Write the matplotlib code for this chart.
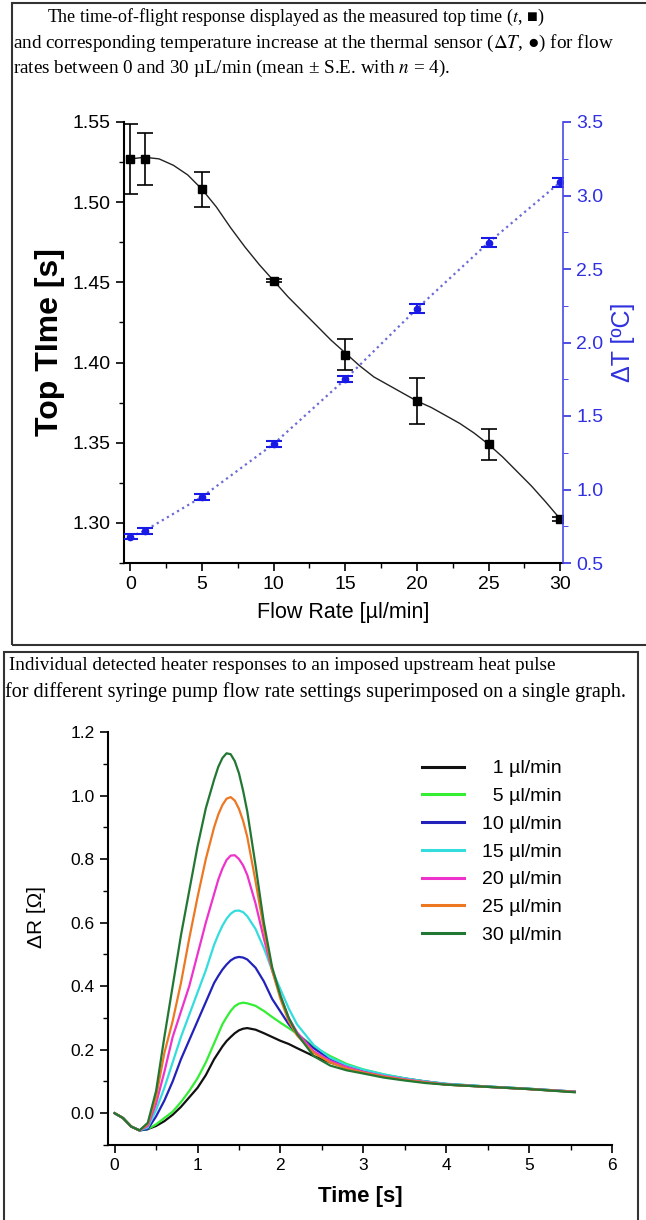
import numpy as np
import matplotlib
matplotlib.use("Agg")
import matplotlib.pyplot as plt
from matplotlib.patches import Rectangle
from matplotlib.ticker import MultipleLocator, FormatStrFormatter

plt.rcParams['font.family'] = ['Liberation Sans', 'DejaVu Sans']
plt.rcParams['mathtext.fontset'] = 'stix'

# top panel: time-of-flight vs flow rate
flow = [0, 1, 5, 10, 15, 20, 25, 30]
top_time = [1.527, 1.527, 1.508, 1.451, 1.405, 1.376, 1.349, 1.3025]
top_err = [0.022, 0.016, 0.011, 0.001, 0.0095, 0.0145, 0.0095, 0.001]
dT = [0.68, 0.72, 0.95, 1.31, 1.75, 2.23, 2.68, 3.09]
dT_err = [0.02, 0.02, 0.02, 0.02, 0.02, 0.03, 0.03, 0.03]

# smooth fit line
fit_x = [0, 1, 2, 3, 4, 5, 6, 7, 8, 9, 10, 11, 12, 13, 14, 15, 16, 17, 18, 19,
         20, 21, 22, 23, 24, 25, 26, 27, 28, 29, 30]
fit_y = [1.527, 1.528, 1.527, 1.523, 1.517, 1.508, 1.497, 1.484, 1.472, 1.461,
         1.451, 1.441, 1.432, 1.423, 1.414, 1.406, 1.398, 1.391, 1.386, 1.381,
         1.376, 1.372, 1.367, 1.362, 1.356, 1.349, 1.341, 1.332, 1.323, 1.313, 1.3025]

# bottom panel: heater responses
t = [0, 0.1, 0.2, 0.3, 0.4, 0.5, 0.6, 0.7, 0.8, 0.9, 1.0, 1.1, 1.2, 1.25, 1.3,
     1.35, 1.4, 1.45, 1.5, 1.55, 1.6, 1.7, 1.8, 1.9, 2.0, 2.1, 2.2, 2.4, 2.6, 2.8,
     3.0, 3.25, 3.5, 3.75, 4.0, 4.5, 5.0, 5.55]
r1 = [0, -0.015, -0.042, -0.054, -0.05, -0.04, -0.025, -0.005, 0.02, 0.05, 0.08,
      0.12, 0.17, 0.19, 0.21, 0.227, 0.24, 0.252, 0.261, 0.266, 0.268, 0.263, 0.252,
      0.24, 0.228, 0.218, 0.205, 0.18, 0.16, 0.145, 0.132, 0.118, 0.107, 0.098,
      0.09, 0.083, 0.076, 0.067]
r5 = [0, -0.015, -0.042, -0.054, -0.05, -0.035, -0.015, 0.005, 0.035, 0.07, 0.11,
      0.16, 0.22, 0.25, 0.28, 0.302, 0.322, 0.337, 0.345, 0.348, 0.346, 0.338,
      0.322, 0.303, 0.285, 0.268, 0.25, 0.21, 0.18, 0.155, 0.138, 0.122, 0.11, 0.1,
      0.092, 0.084, 0.077, 0.068]
r10 = [0, -0.015, -0.042, -0.054, -0.05, -0.01, 0.04, 0.10, 0.17, 0.23, 0.29,
       0.35, 0.41, 0.432, 0.452, 0.468, 0.481, 0.489, 0.492, 0.49, 0.484, 0.458,
       0.415, 0.36, 0.32, 0.28, 0.25, 0.205, 0.17, 0.15, 0.135, 0.12, 0.109, 0.1,
       0.092, 0.084, 0.077, 0.068]
r15 = [0, -0.015, -0.042, -0.054, -0.045, 0.01, 0.08, 0.16, 0.24, 0.31, 0.38,
       0.45, 0.53, 0.562, 0.59, 0.612, 0.628, 0.637, 0.638, 0.633, 0.62, 0.58,
       0.52, 0.45, 0.39, 0.33, 0.28, 0.215, 0.175, 0.152, 0.137, 0.122, 0.11, 0.1,
       0.093, 0.084, 0.077, 0.068]
r20 = [0, -0.015, -0.042, -0.054, -0.04, 0.03, 0.13, 0.24, 0.32, 0.40, 0.50,
       0.60, 0.69, 0.735, 0.77, 0.797, 0.811, 0.812, 0.80, 0.78, 0.75, 0.66, 0.55,
       0.45, 0.37, 0.30, 0.255, 0.195, 0.165, 0.145, 0.13, 0.117, 0.107, 0.098,
       0.091, 0.083, 0.076, 0.068]
r25 = [0, -0.015, -0.042, -0.054, -0.035, 0.05, 0.19, 0.29, 0.41, 0.55, 0.68,
       0.80, 0.90, 0.94, 0.97, 0.99, 0.995, 0.984, 0.958, 0.92, 0.87, 0.73, 0.58,
       0.45, 0.36, 0.29, 0.245, 0.19, 0.16, 0.14, 0.128, 0.115, 0.105, 0.097,
       0.09, 0.083, 0.076, 0.067]
r30 = [0, -0.015, -0.042, -0.054, -0.03, 0.07, 0.24, 0.40, 0.56, 0.70, 0.84,
       0.96, 1.05, 1.09, 1.118, 1.133, 1.13, 1.108, 1.07, 1.015, 0.95, 0.78, 0.60,
       0.46, 0.37, 0.30, 0.25, 0.18, 0.15, 0.135, 0.125, 0.112, 0.103, 0.095,
       0.09, 0.083, 0.076, 0.066]
series = [r1, r5, r10, r15, r20, r25, r30]
labels = ['  1 µl/min', '  5 µl/min', '10 µl/min', '15 µl/min',
          '20 µl/min', '25 µl/min', '30 µl/min']
colors = ['#111111', '#33ee33', '#2222bb', '#33dddd', '#ee33cc', '#ee7722', '#227733']

fig = plt.figure(figsize=(6.46, 12.2), dpi=100)

# panel frames
fig.add_artist(Rectangle((0.0186, 0.4713), 1.0, 0.5262, transform=fig.transFigure,
                         fill=False, edgecolor='#333333', linewidth=1.5))
fig.add_artist(Rectangle((0.0062, -0.01), 0.9814, 0.4756, transform=fig.transFigure,
                         fill=False, edgecolor='#333333', linewidth=1.5))

serif = ['Liberation Serif', 'DejaVu Serif']
fig.text(47/646, 1 - 17/1220,
         'The time-of-flight response displayed as the measured top time ($t$, ■)',
         family=serif, fontsize=13.0, va='center', ha='left')
fig.text(13/646, 1 - 43/1220,
         'and corresponding temperature increase at the thermal sensor ($\\Delta T$, ●) for flow',
         family=serif, fontsize=13.8, va='center', ha='left')
fig.text(13/646, 1 - 68/1220,
         'rates between 0 and 30 µL/min (mean ± S.E. with $n$ = 4).',
         family=serif, fontsize=13.8, va='center', ha='left')

fig.text(9/646, 1 - 665/1220,
         'Individual detected heater responses to an imposed upstream heat pulse',
         family=serif, fontsize=13.8, va='center', ha='left')
fig.text(5/646, 1 - 692/1220,
         'for different syringe pump flow rate settings superimposed on a single graph.',
         family=serif, fontsize=14.5, va='center', ha='left')

# ---- top chart ----
ax = fig.add_axes([124/646, 1 - 563/1220, (563 - 124)/646, (563 - 122)/1220])
ax.plot(fit_x, fit_y, color='#222222', linewidth=1.0)
ax.errorbar(flow, top_time, yerr=top_err, fmt='s', color='black', markersize=5.5,
            capsize=6, elinewidth=1.2, capthick=1.2)
ax.set_xlim(-0.45, 30.2)
ax.set_ylim(1.275, 1.55)
ax.xaxis.set_major_locator(MultipleLocator(5))
ax.xaxis.set_minor_locator(MultipleLocator(2.5))
ax.yaxis.set_major_locator(MultipleLocator(0.05))
ax.yaxis.set_minor_locator(MultipleLocator(0.025))
ax.yaxis.set_major_formatter(FormatStrFormatter('%.2f'))
ax.spines['top'].set_visible(False)
ax.spines['right'].set_visible(False)
ax.spines['left'].set_linewidth(1.5)
ax.spines['bottom'].set_linewidth(1.5)
ax.tick_params(which='major', direction='out', length=6, width=1.2, labelsize=14)
ax.tick_params(which='minor', direction='out', length=3.5, width=1.0)
ax.set_xlabel('Flow Rate [µl/min]', fontsize=15.5, labelpad=6)
ax.set_ylabel('Top TIme [s]', fontsize=23, fontweight='bold')
ax.yaxis.set_label_coords(-0.135, 0.5)

ax2 = ax.twinx()
blue = '#1a1ae6'
ax2.plot(flow, dT, linestyle=':', color='#6a6ad8', linewidth=1.6)
ax2.errorbar(flow, dT, yerr=dT_err, fmt='o', color=blue, markersize=4.5,
             capsize=6, elinewidth=1.5, capthick=1.5)
ax2.set_ylim(0.5, 3.5)
ax2.yaxis.set_major_locator(MultipleLocator(0.5))
ax2.yaxis.set_minor_locator(MultipleLocator(0.25))
ax2.yaxis.set_major_formatter(FormatStrFormatter('%.1f'))
for s in ['top', 'left', 'bottom']:
    ax2.spines[s].set_visible(False)
ax2.spines['right'].set_color('#4a4ae6')
ax2.spines['right'].set_linewidth(1.2)
ax2.tick_params(axis='y', which='major', direction='out', length=6, width=1.2,
                labelsize=14, colors='#3030e0')
ax2.tick_params(axis='y', which='minor', direction='out', length=3.5,
                colors='#3030e0')
ax2.set_ylabel('ΔT [ºC]', fontsize=18, color='#3030e0')
ax2.yaxis.set_label_coords(1.11, 0.5)

# ---- bottom chart ----
bx = fig.add_axes([108/646, 1 - 1145/1220, (612 - 108)/646, (1145 - 732)/1220])
for r, lab, c in zip(series, labels, colors):
    bx.plot(t, r, color=c, linewidth=1.6, label=lab)
bx.set_xlim(-0.08, 6)
bx.set_ylim(-0.1, 1.2)
bx.xaxis.set_major_locator(MultipleLocator(1))
bx.xaxis.set_minor_locator(MultipleLocator(0.5))
bx.yaxis.set_major_locator(MultipleLocator(0.2))
bx.yaxis.set_minor_locator(MultipleLocator(0.1))
bx.yaxis.set_major_formatter(FormatStrFormatter('%.1f'))
bx.spines['top'].set_visible(False)
bx.spines['right'].set_visible(False)
bx.spines['left'].set_linewidth(1.5)
bx.spines['bottom'].set_linewidth(1.5)
bx.tick_params(which='major', direction='out', length=6, width=1.2, labelsize=12.5)
bx.tick_params(which='minor', direction='out', length=3.5, width=1.0)
bx.set_xlabel('Time [s]', fontsize=16, fontweight='bold', labelpad=9)
bx.set_ylabel('ΔR [Ω]', fontsize=15)
bx.yaxis.set_label_coords(-0.123, 0.552)
leg = bx.legend(loc='upper right', bbox_to_anchor=(0.935, 0.975), frameon=False,
                fontsize=14, handlelength=2.2, handletextpad=0.9, labelspacing=0.52)
for line in leg.get_lines():
    line.set_linewidth(2.2)

fig.savefig('out.png', dpi=100)
